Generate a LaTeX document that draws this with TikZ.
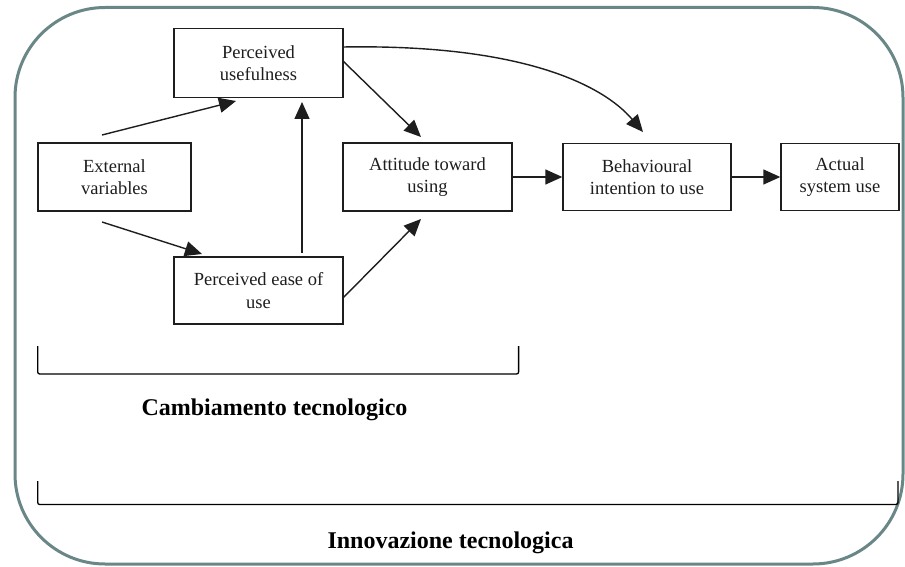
\documentclass[tikz,border=0pt]{standalone}
\usepackage{fontspec}
\setmainfont{Liberation Serif}
\usetikzlibrary{arrows.meta,calc}
\definecolor{frame}{HTML}{6A8788}
\definecolor{ink}{HTML}{1E1E1E}
\begin{document}
\begin{tikzpicture}[x=1pt,y=-1pt,
  box/.style={draw=ink,line width=1.4pt,align=center,inner sep=0pt,
    font=\fontsize{18.5}{22.5}\selectfont,text=ink},
  link/.style={draw=ink,line width=1.4pt,-{Triangle[length=17pt,width=15pt]}},
  bracket/.style={draw=black,line width=1.3pt,rounded corners=2pt},
  caption/.style={font=\fontsize{24}{28}\selectfont\bfseries,anchor=base,inner sep=0pt,text=black}]
\useasboundingbox (0,0) rectangle (905,567);
\fill[white] (0,0) rectangle (905,567);

% outer rounded frame
\draw[frame,line width=3pt,rounded corners=90pt] (15,7.5) rectangle (903,564);

% model boxes
\node[box,minimum width=169pt,minimum height=68.5pt] (pu) at (258.5,63) {Perceived\\usefulness};
\node[box,minimum width=153pt,minimum height=68pt] (ev) at (114.5,177) {External\\variables};
\node[box,minimum width=169pt,minimum height=68pt] (at) at (427.5,177) {Attitude toward\\using};
\node[box,minimum width=168pt,minimum height=67pt] (bi) at (647,177) {Behavioural\\intention to use};
\node[box,minimum width=118pt,minimum height=67pt] (as) at (840,177) {Actual\\system use};
\node[box,minimum width=169pt,minimum height=67pt] (pe) at (258.5,290.5) {Perceived ease of\\use};

% free arrow ends (arrows stop short of the boxes)
\coordinate (evTop) at (102,135);
\coordinate (puIn) at (236,101);
\coordinate (evBot) at (102,222);
\coordinate (peIn) at (202,254);
\coordinate (peTop) at (302,253);
\coordinate (puBot) at (302,102);
\coordinate (puOut) at (343,61);
\coordinate (atTopIn) at (421,137);
\coordinate (peOut) at (343,298);
\coordinate (atBotIn) at (421,219);
\coordinate (puArc) at (343,47);
\coordinate (biArc) at (643,132);

% connectors
\draw[link] (evTop) -- (puIn);
\draw[link] (evBot) -- (peIn);
\draw[link] (peTop) -- (puBot);
\draw[link] (puOut) -- (atTopIn);
\draw[link] (peOut) -- (atBotIn);
\draw[link] (at) -- (bi);
\draw[link] (bi) -- (as);
\draw[link] (puArc) .. controls (520,44) and (602,84) .. (biArc);

% grouping brackets
\draw[bracket] (37.7,346) -- (37.7,374) -- (518.6,374) -- (518.6,346);
\draw[bracket] (37.7,481) -- (37.7,504.5) -- (898,504.5) -- (898,481);

% captions
\node[caption] (capA) at (274.5,415) {Cambiamento tecnologico};
\node[caption] (capB) at (450.5,548) {Innovazione tecnologica};
\end{tikzpicture}
\end{document}
